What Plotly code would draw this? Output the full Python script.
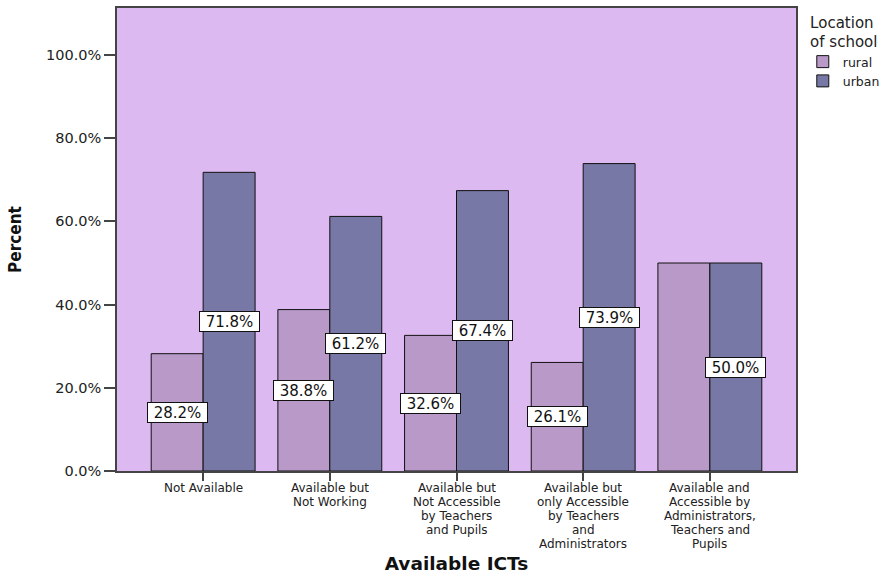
import plotly.graph_objects as go

# Share of schools (%) by ICT availability and school location
category_lines = [
    ["Not Available"],
    ["Available but", "Not Working"],
    ["Available but", "Not Accessible", "by Teachers", "and Pupils"],
    ["Available but", "only Accessible", "by Teachers", "and", "Administrators"],
    ["Available and", "Accessible by", "Administrators,", "Teachers and", "Pupils"],
]
categories = [" ".join(lines) for lines in category_lines]
rural = [28.2, 38.8, 32.6, 26.1, 50.0]
urban = [71.8, 61.2, 67.4, 73.9, 50.0]
# which bars carry a value label
rural_labelled = [True, True, True, True, False]
urban_labelled = [True, True, True, True, True]
y_ticks = [0, 20, 40, 60, 80, 100]

FONT = "DejaVu Sans, Verdana, Arial, sans-serif"
NARROW = "Liberation Sans Narrow, DejaVu Sans Condensed, Arial Narrow, sans-serif"
BG = "#DDB9F1"
RURAL_C = "#B899C8"
URBAN_C = "#7878A6"
AXIS_C = "#444444"
LINE_H = 14

fig = go.Figure()
fig.add_trace(go.Bar(name="rural", x=categories, y=rural,
                     marker=dict(color=RURAL_C, line=dict(color="#111111", width=1))))
fig.add_trace(go.Bar(name="urban", x=categories, y=urban,
                     marker=dict(color=URBAN_C, line=dict(color="#111111", width=1))))

annotations = []
# value labels centred in the bars
for vals, flags, shift in [(rural, rural_labelled, -26), (urban, urban_labelled, 26)]:
    for c, v, show in zip(categories, vals, flags):
        if not show:
            continue
        annotations.append(dict(
            x=c, y=v / 2, xref="x", yref="y", xshift=shift,
            text=f"{v:.1f}%", showarrow=False,
            font=dict(family=FONT, size=15, color="#111111"),
            width=57, height=17,
            bgcolor="white", bordercolor="#111111", borderwidth=1, borderpad=1,
        ))

# multi-line category labels under the axis, tightly spaced
for c, lines in zip(categories, category_lines):
    for j, line in enumerate(lines):
        annotations.append(dict(
            x=c, y=0, xref="x", yref="paper", yanchor="top",
            yshift=-9 - j * LINE_H, text=line, showarrow=False,
            height=LINE_H, borderpad=0,
            font=dict(family=FONT, size=12, color="#222222"),
        ))

fig.update_layout(
    width=888, height=574,
    margin=dict(l=117, r=92, t=8, b=103, autoexpand=False),
    paper_bgcolor="white", plot_bgcolor=BG,
    barmode="group", bargap=0.18, bargroupgap=0,
    font=dict(family=FONT, color="#222222"),
    annotations=annotations,
    legend=dict(
        x=1.01, xanchor="left", y=1.0, yanchor="top",
        bgcolor="rgba(0,0,0,0)",
        title=dict(text="Location<br>of school", side="top center",
                   font=dict(family=FONT, size=15, color="#222222")),
        font=dict(family=FONT, size=12.5, color="#222222"),
        tracegroupgap=0, itemwidth=30,
    ),
    xaxis=dict(
        range=[-0.68, 4.68], showticklabels=False, automargin=False,
        ticks="outside", ticklen=8, tickcolor=AXIS_C, tickwidth=1.5,
        showline=True, linecolor=AXIS_C, linewidth=1.5, mirror=True,
        showgrid=False, zeroline=False,
        title=dict(text="<b>Available ICTs</b>", standoff=81,
                   font=dict(family=FONT, size=18.5, color="#111111")),
    ),
    yaxis=dict(
        range=[0, 111.3], tickvals=y_ticks, automargin=False,
        ticktext=[f"{t:.1f}%" for t in y_ticks],
        ticks="outside", ticklen=11, tickcolor=AXIS_C, tickwidth=1.5,
        tickfont=dict(family=FONT, size=14.5, color="#222222"),
        showline=True, linecolor=AXIS_C, linewidth=1.5, mirror=True,
        showgrid=False, zeroline=False,
        title=dict(text="<b>Percent</b>", standoff=20,
                   font=dict(family=NARROW, size=17, color="#111111")),
    ),
)

fig.write_html("out.html")
